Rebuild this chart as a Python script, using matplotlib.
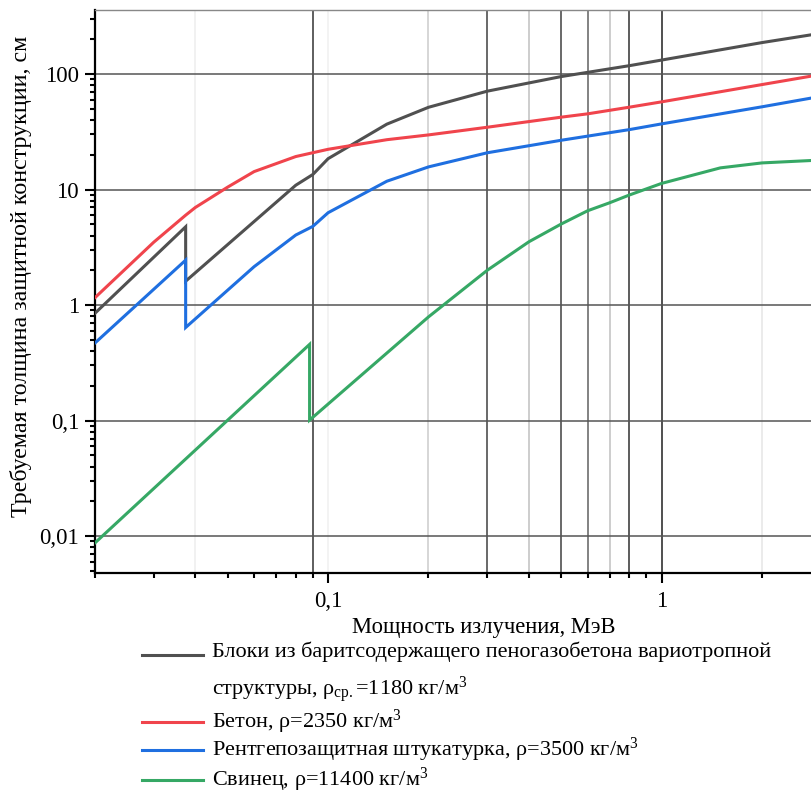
import numpy as np
import matplotlib
matplotlib.use('Agg')
import matplotlib.pyplot as plt
from matplotlib.lines import Line2D
from matplotlib.ticker import FixedLocator, FixedFormatter, LogLocator, NullFormatter

plt.rcParams['font.family'] = ['Liberation Serif', 'DejaVu Serif']
plt.rcParams['mathtext.fontset'] = 'custom'
plt.rcParams['mathtext.rm'] = 'Liberation Serif'
plt.rcParams['mathtext.it'] = 'Liberation Serif:italic'

# --- данные ---
x_blok = [0.02, 0.0374, 0.0374, 0.08, 0.09, 0.1, 0.15, 0.2, 0.3, 0.5, 0.8, 1, 2, 3]
y_blok = [0.85, 4.76, 1.61, 10.9, 13.5, 18.5, 36.8, 51.5, 71, 95, 118, 132, 187, 225]

x_beton = [0.02, 0.03, 0.0374, 0.04, 0.05, 0.06, 0.08, 0.1, 0.15, 0.2, 0.3, 0.5, 0.6, 0.8, 1, 2, 3]
y_beton = [1.16, 3.5, 6.0, 7.0, 10.5, 14.3, 19.3, 22.3, 27, 29.7, 34.6, 42.3, 45.2, 51.6, 57.4, 81, 99]

x_shtuk = [0.02, 0.0374, 0.0374, 0.06, 0.08, 0.09, 0.1, 0.15, 0.2, 0.3, 0.5, 0.8, 1, 2, 3]
y_shtuk = [0.47, 2.45, 0.64, 2.15, 4.04, 4.8, 6.3, 11.8, 15.7, 20.8, 26.7, 33, 37, 52, 64]

x_svin = [0.02, 0.088, 0.088, 0.2, 0.3, 0.4, 0.5, 0.6, 0.7, 0.8, 1, 1.5, 2, 3]
y_svin = [0.00875, 0.457, 0.101, 0.79, 2.0, 3.53, 5.03, 6.55, 7.7, 8.96, 11.3, 15.4, 17, 18]

nazvaniya = [
    'Блоки из баритсодержащего пеногазобетона вариотропной\n'
    'структуры, ρ$_{\\mathrm{ср.}}$=1180 кг/м$^{3}$',
    'Бетон, ρ=2350 кг/м$^{3}$',
    'Рентгепозащитная штукатурка, ρ=3500 кг/м$^{3}$',
    'Свинец, ρ=11400 кг/м$^{3}$',
]
cveta = ['#505050', '#f0444c', '#1f6fe0', '#36a865']

y_ticks = [0.01, 0.1, 1, 10, 100]
y_tick_labels = ['0,01', '0,1', '1', '10', '100']
x_ticks = [0.1, 1]
x_tick_labels = ['0,1', '1']

# вертикальные линии сетки (значения и оттенки)
setka_x = [0.04, 0.09, 0.1, 0.2, 0.3, 0.4, 0.5, 0.6, 0.7, 0.8, 1, 2]
setka_cvet = ['#eeeeee', '#333333', '#f0f0f0', '#cccccc', '#404040', '#c0c0c0',
              '#404040', '#606060', '#c0c0c0', '#303030', '#202020', '#e6e6e6']

W, H = 811, 793
fig = plt.figure(figsize=(W / 100, H / 100), dpi=100)
# ось справа уходит за край картинки (до 3 МэВ)
left, right, top, bottom = 95, 820.7, 10, 573
ax = fig.add_axes([left / W, 1 - bottom / H, (right - left) / W, (bottom - top) / H])

ax.set_xscale('log')
ax.set_yscale('log')
ax.set_xlim(0.02, 3)
ax.set_ylim(0.0048, 358)

for xv, c in zip(setka_x, setka_cvet):
    ax.axvline(xv, color=c, lw=1.1, zorder=1)
for yv in y_ticks:
    ax.axhline(yv, color='#555555', lw=1.1, zorder=1)

serii = [(x_blok, y_blok), (x_beton, y_beton), (x_shtuk, y_shtuk), (x_svin, y_svin)]
for (xs, ys), c in zip(serii, cveta):
    ax.plot(xs, ys, color=c, lw=2.2, zorder=3, solid_joinstyle='miter')

ax.yaxis.set_major_locator(FixedLocator(y_ticks))
ax.yaxis.set_major_formatter(FixedFormatter(y_tick_labels))
ax.yaxis.set_minor_locator(LogLocator(base=10, subs=np.arange(2, 10)))
ax.yaxis.set_minor_formatter(NullFormatter())
ax.xaxis.set_major_locator(FixedLocator(x_ticks))
ax.xaxis.set_major_formatter(FixedFormatter(x_tick_labels))
ax.xaxis.set_minor_locator(LogLocator(base=10, subs=np.arange(2, 10)))
ax.xaxis.set_minor_formatter(NullFormatter())

ax.tick_params(which='major', direction='out', length=7, width=1.5, labelsize=16.5, pad=4.5)
ax.tick_params(which='minor', direction='out', length=3.5, width=1.5)
ax.tick_params(axis='x', which='major', pad=6)

for s in ['left', 'bottom']:
    ax.spines[s].set_linewidth(1.6)
ax.spines['top'].set_color('#888888')
ax.spines['top'].set_linewidth(1.0)
ax.spines['right'].set_visible(False)

fig.text(484 / W, 1 - 627 / H, 'Мощность излучения, МэВ', ha='center', va='center', fontsize=16.3)
fig.text(21 / W, 1 - 276 / H, 'Требуемая толщина защитной конструкции, см',
         ha='center', va='center', rotation=90, fontsize=17.3)

# легенда под графиком
leg_y = [655, 722, 750, 780]
for yy, c, t in zip(leg_y, cveta, nazvaniya):
    fy = 1 - yy / H
    fig.add_artist(Line2D([142 / W, 203 / W], [fy, fy], color=c, lw=2.2,
                          transform=fig.transFigure))
    if '\n' in t:
        fig.text(212 / W, 1 - (yy - 14) / H, t, ha='left', va='top',
                 fontsize=16, linespacing=1.6)
    else:
        fig.text(212 / W, fy, t, ha='left', va='center', fontsize=16)

fig.savefig('out.png', dpi=100)
